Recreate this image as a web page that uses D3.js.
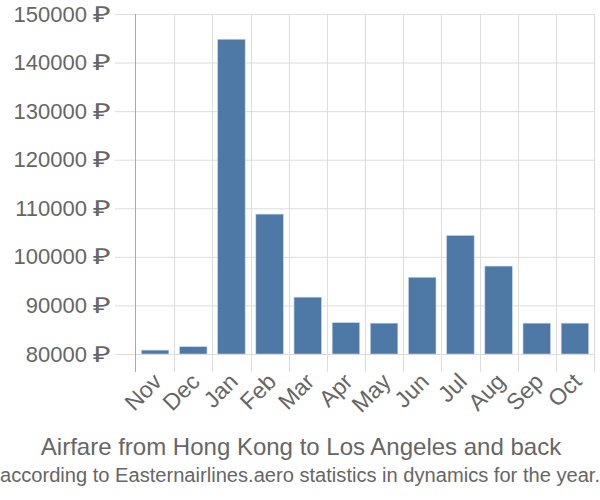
<!DOCTYPE html>
<html><head><meta charset="utf-8">
<script src="https://cdn.jsdelivr.net/npm/d3@7"></script>
<style>body{margin:0;background:#fff}</style>
</head><body>
<script>
const months = ["Nov","Dec","Jan","Feb","Mar","Apr","May","Jun","Jul","Aug","Sep","Oct"];
const prices = [80800,81500,144800,108800,91700,86450,86350,95800,104400,98100,86350,86350];
const yTicks = [80000,90000,100000,110000,120000,130000,140000,150000];
const title = "Airfare from Hong Kong to Los Angeles and back";
const subtitle = "according to Easternairlines.aero statistics in dynamics for the year.";

const W=600,H=500, L=136, R=594, T=14, B=354;
const svg=d3.select("body").append("svg").attr("width",W).attr("height",H)
  .style("font-family","'Liberation Sans',Arial,sans-serif");
const x=d3.scaleBand().domain(months).range([L,R]).paddingInner(0.28).paddingOuter(0.14);
const xg=d3.scaleBand().domain(months).range([L,R]);
const y=d3.scaleLinear().domain([80000,150000]).range([B,T]);

// horizontal grid
svg.append("g").selectAll("line").data(yTicks).join("line")
  .attr("x1",L-21).attr("x2",R).attr("y1",d=>y(d)+0.5).attr("y2",d=>y(d)+0.5)
  .attr("stroke","#dddddd").attr("stroke-width",1);
// vertical grid
const vb=months.map(m=>xg(m)).slice(1).concat([R]);
svg.append("g").selectAll("line").data(vb).join("line")
  .attr("x1",d=>Math.round(d)+0.5).attr("x2",d=>Math.round(d)+0.5).attr("y1",T).attr("y2",B+18)
  .attr("stroke","#dddddd").attr("stroke-width",1);
// left axis line
svg.append("line").attr("x1",L-0.5).attr("x2",L-0.5).attr("y1",T).attr("y2",B+18)
  .attr("stroke","#aaaaaa").attr("stroke-width",1);

// bars
svg.append("g").selectAll("rect").data(prices).join("rect")
  .attr("x",(d,i)=>x(months[i])).attr("width",x.bandwidth())
  .attr("y",d=>y(d)).attr("height",d=>B-y(d))
  .attr("fill","#4e79a7").attr("stroke","#c5d4e4").attr("stroke-width",0.6);

// y labels: number and currency sign
const yl=svg.append("g").attr("fill","#666").style("font-size","22px");
yl.selectAll("text.n").data(yTicks).join("text").attr("class","n")
  .attr("x",87).attr("y",d=>y(d)+7.5).attr("text-anchor","end").text(d=>d);
yl.selectAll("text.c").data(yTicks).join("text").attr("class","c")
  .attr("x",93).attr("y",d=>y(d)+7.5).attr("text-anchor","start")
  .attr("textLength",18).attr("lengthAdjust","spacingAndGlyphs").text("₽");

// x labels
svg.append("g").selectAll("text").data(months).join("text")
  .attr("transform",d=>`translate(${x(d)+x.bandwidth()/2+8},${B+29}) rotate(-45)`)
  .attr("text-anchor","end").attr("fill","#666").style("font-size","23px").text(d=>d);

svg.append("text").attr("x",301).attr("y",455).attr("text-anchor","middle")
  .attr("fill","#666").style("font-size","24px").text(title);
svg.append("text").attr("x",300).attr("y",482).attr("text-anchor","middle")
  .attr("fill","#666").style("font-size","20px")
  .attr("textLength",600).attr("lengthAdjust","spacingAndGlyphs").text(subtitle);
</script>
</body></html>
